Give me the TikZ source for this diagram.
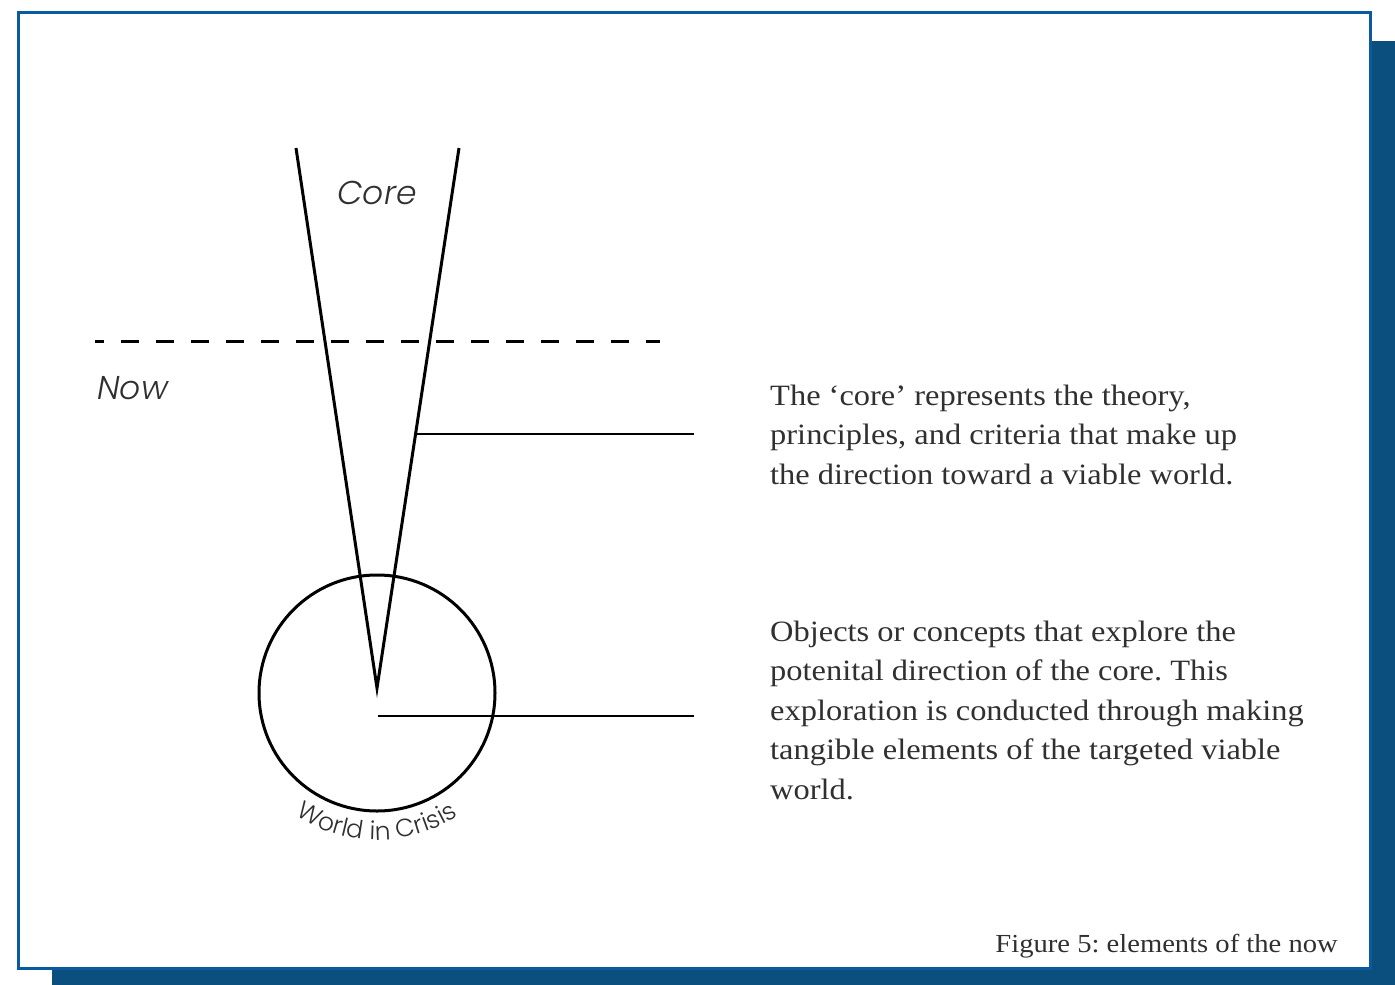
\documentclass[tikz,border=0pt]{standalone}
\usepackage{fontspec}
\setmainfont{Liberation Serif}[FakeStretch=1.1]
\newfontfamily\lblfont{Poppins}[UprightFont={* Light},ItalicFont={* Light Italic}]
\usetikzlibrary{decorations.text}
\definecolor{frameblue}{HTML}{0A5AA0}
\definecolor{shadowblue}{HTML}{0A4F7E}
\definecolor{txtgray}{HTML}{303030}
\frenchspacing
\tikzset{
  thick line/.style={line width=3pt, black},
  leader/.style={line width=1.5pt, black},
  label text/.style={font=\lblfont\itshape\fontsize{33}{38}\selectfont, text=txtgray, inner sep=0pt},
  body/.style={font=\fontsize{29.5}{39.5}\selectfont, text=txtgray, inner sep=0pt, anchor=base west},
}
\begin{document}
\begin{tikzpicture}[x=1pt,y=-1pt]
\useasboundingbox (0,0) rectangle (1395,985);
% shadow
\fill[shadowblue] (52,969) rectangle (1395,985);
\fill[shadowblue] (1372,41) rectangle (1395,985);
% panel
\draw[frameblue, line width=3pt, fill=white] (18.5,12.5) rectangle (1370,968);
% core triangle
\coordinate (tl) at (296,148);
\coordinate (tr) at (459,148);
\coordinate (tip) at (377,688);
\draw[thick line, line join=miter] (tl) -- (tip) -- (tr);
% circle
\node[draw, circle, line width=3pt, minimum size=236pt, inner sep=0pt] (world) at (377,693) {};
% dashed now line
\coordinate (d1) at (95,341);
\coordinate (d2) at (660,341);
\draw[line width=3pt, dash pattern=on 18pt off 17pt, dash phase=9pt] (d1) -- (d2);
% labels
\node[label text] (core) at (377,193) {Core};
\node[label text, anchor=west] (now) at (97,388) {Now};
% curved label
\path[decorate, decoration={text along path, text align=center,
  text={|\lblfont\fontsize{25}{28}\selectfont\color{txtgray}|World in Crisis}}]
  (377,693) ++(126:147) arc[start angle=126, end angle=54, radius=147];
% leaders
\coordinate (l1a) at (415,434);
\coordinate (l1b) at (694,434);
\coordinate (l2a) at (378,716);
\coordinate (l2b) at (694,716);
\draw[leader] (l1a) -- (l1b);
\draw[leader] (l2a) -- (l2b);
% texts
\node[body] (a1) at (770,405) {The ‘core’ represents the theory,};
\node[body] (a2) at (770,444.5) {principles, and criteria that make up};
\node[body] (a3) at (770,484) {the direction toward a viable world.};
\node[body] (b1) at (770,641) {Objects or concepts that explore the};
\node[body] (b2) at (770,680.5) {potenital direction of the core. This};
\node[body] (b3) at (770,720) {exploration is conducted through making};
\node[body] (b4) at (770,759.5) {tangible elements of the targeted viable};
\node[body] (b5) at (770,799) {world.};
\node[body, anchor=base east, font=\fontsize{26}{30}\selectfont] (cap) at (1338,952) {Figure 5: elements of the now};
\end{tikzpicture}
\end{document}
